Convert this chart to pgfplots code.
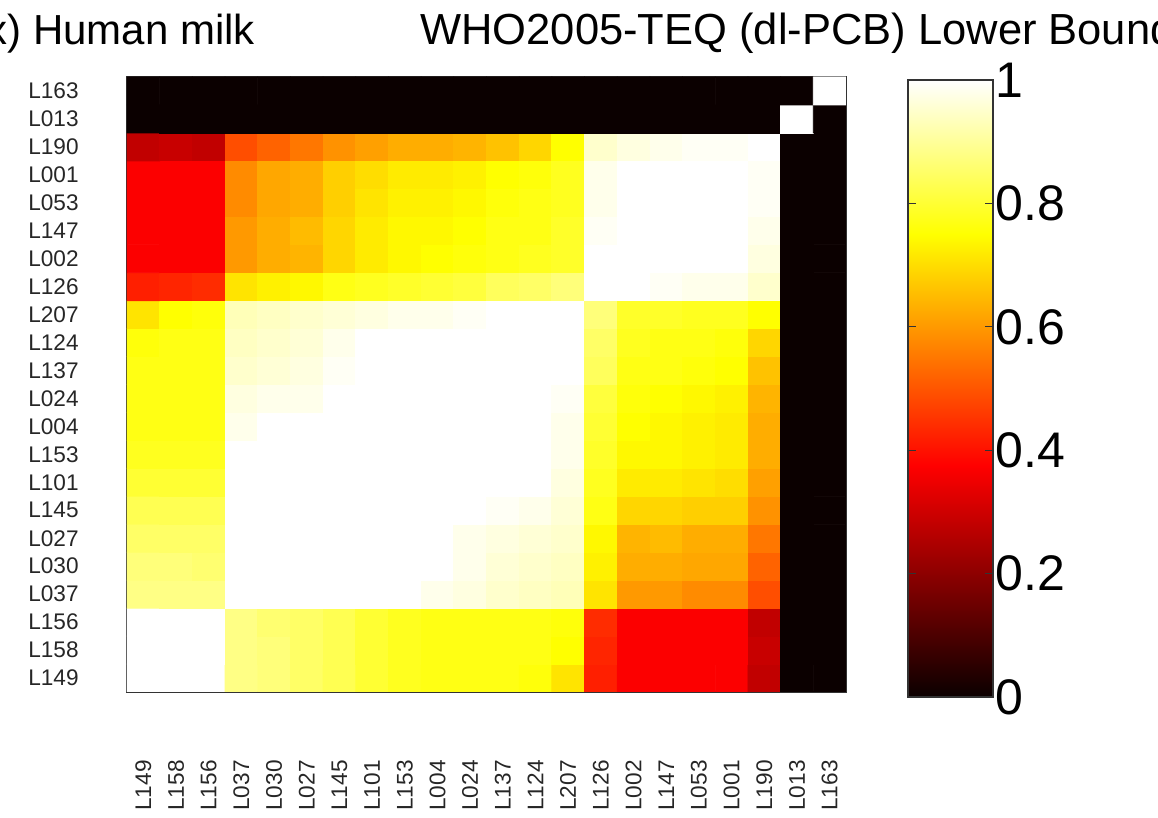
\documentclass[border=0pt]{standalone}
\usepackage{fontspec}
\setmainfont{Liberation Sans}
\usepackage{pgfplots}
\pgfplotsset{compat=1.18}
\begin{document}
\begin{tikzpicture}
\begin{axis}[
  at={(63.5pt,63pt)}, anchor=south west,
  width=359.5pt, height=307.5pt, scale only axis,
  xmin=-0.5, xmax=21.5, ymin=-0.5, ymax=21.5,
  axis line style={draw=black!80, line width=0.75pt},
  xtick={0,...,21}, ytick={0,...,21},
  xticklabels={L149,L158,L156,L037,L030,L027,L145,L101,L153,L004,L024,L137,L124,L207,L126,L002,L147,L053,L001,L190,L013,L163},
  yticklabels={L149,L158,L156,L037,L030,L027,L145,L101,L153,L004,L024,L137,L124,L207,L126,L002,L147,L053,L001,L190,L013,L163},
  major tick length=0pt,
  xticklabel style={rotate=90, anchor=east, inner sep=0pt, font=\fontsize{11.3}{13}\selectfont, text=black!85},
  yticklabel style={anchor=east, inner sep=0pt, font=\fontsize{11.3}{13}\selectfont, text=black!85},
  xticklabel shift=34pt, yticklabel shift=24pt,
  colormap={mhot}{rgb(0)=(0.0417,0,0); rgb(3)=(1,0,0); rgb(6)=(1,1,0); rgb(8)=(1,1,1)},
  point meta min=0, point meta max=1,
  colorbar,
  colorbar shift/.style={},
  colorbar/width=42.5pt,
  colorbar style={
    at={(parent axis.south east)}, anchor=south west, xshift=31pt, yshift=-2.5pt,
    width=42.5pt, height=308.5pt, scale only axis,
    ytick={0,0.2,0.4,0.6,0.8,1},
    tick align=inside, major tick length=4pt, ytick pos=both, yticklabel pos=right,
    /pgf/number format/assume math mode=true,
    yticklabel style={font=\fontsize{25}{28}\selectfont, inner sep=0pt, xshift=1pt},
    axis line style={draw=black!80, line width=0.75pt},
    major tick style={draw=black!80, line width=0.6pt},
  },
]
\addplot[matrix plot*, mesh/cols=22, point meta=explicit] table[row sep=\\, meta=c] {
x y c\\
0 0 1\\ 1 0 1\\ 2 0 1\\ 3 0 0.88\\ 4 0 0.87\\ 5 0 0.85\\ 6 0 0.83\\ 7 0 0.8\\ 8 0 0.78\\ 9 0 0.77\\ 10 0 0.77\\ 11 0 0.77\\ 12 0 0.76\\ 13 0 0.71\\ 14 0 0.42\\ 15 0 0.37\\ 16 0 0.37\\ 17 0 0.37\\ 18 0 0.37\\ 19 0 0.28\\ 20 0 0\\ 21 0 0\\
0 1 1\\ 1 1 1\\ 2 1 1\\ 3 1 0.88\\ 4 1 0.87\\ 5 1 0.85\\ 6 1 0.83\\ 7 1 0.8\\ 8 1 0.78\\ 9 1 0.77\\ 10 1 0.77\\ 11 1 0.77\\ 12 1 0.77\\ 13 1 0.75\\ 14 1 0.43\\ 15 1 0.37\\ 16 1 0.37\\ 17 1 0.37\\ 18 1 0.37\\ 19 1 0.29\\ 20 1 0\\ 21 1 0\\
0 2 1\\ 1 2 1\\ 2 2 1\\ 3 2 0.88\\ 4 2 0.86\\ 5 2 0.85\\ 6 2 0.83\\ 7 2 0.8\\ 8 2 0.78\\ 9 2 0.77\\ 10 2 0.77\\ 11 2 0.77\\ 12 2 0.77\\ 13 2 0.76\\ 14 2 0.44\\ 15 2 0.37\\ 16 2 0.37\\ 17 2 0.37\\ 18 2 0.37\\ 19 2 0.28\\ 20 2 0\\ 21 2 0\\
0 3 0.88\\ 1 3 0.88\\ 2 3 0.88\\ 3 3 1\\ 4 3 1\\ 5 3 1\\ 6 3 1\\ 7 3 1\\ 8 3 1\\ 9 3 0.98\\ 10 3 0.97\\ 11 3 0.95\\ 12 3 0.94\\ 13 3 0.93\\ 14 3 0.71\\ 15 3 0.6\\ 16 3 0.6\\ 17 3 0.58\\ 18 3 0.58\\ 19 3 0.49\\ 20 3 0\\ 21 3 0\\
0 4 0.87\\ 1 4 0.87\\ 2 4 0.86\\ 3 4 1\\ 4 4 1\\ 5 4 1\\ 6 4 1\\ 7 4 1\\ 8 4 1\\ 9 4 1\\ 10 4 0.98\\ 11 4 0.96\\ 12 4 0.95\\ 13 4 0.94\\ 14 4 0.73\\ 15 4 0.63\\ 16 4 0.63\\ 17 4 0.62\\ 18 4 0.62\\ 19 4 0.52\\ 20 4 0\\ 21 4 0\\
0 5 0.85\\ 1 5 0.85\\ 2 5 0.85\\ 3 5 1\\ 4 5 1\\ 5 5 1\\ 6 5 1\\ 7 5 1\\ 8 5 1\\ 9 5 1\\ 10 5 0.98\\ 11 5 0.97\\ 12 5 0.96\\ 13 5 0.95\\ 14 5 0.74\\ 15 5 0.64\\ 16 5 0.65\\ 17 5 0.63\\ 18 5 0.63\\ 19 5 0.55\\ 20 5 0\\ 21 5 0\\
0 6 0.83\\ 1 6 0.83\\ 2 6 0.83\\ 3 6 1\\ 4 6 1\\ 5 6 1\\ 6 6 1\\ 7 6 1\\ 8 6 1\\ 9 6 1\\ 10 6 1\\ 11 6 0.99\\ 12 6 0.98\\ 13 6 0.96\\ 14 6 0.77\\ 15 6 0.69\\ 16 6 0.69\\ 17 6 0.68\\ 18 6 0.68\\ 19 6 0.59\\ 20 6 0\\ 21 6 0\\
0 7 0.8\\ 1 7 0.8\\ 2 7 0.8\\ 3 7 1\\ 4 7 1\\ 5 7 1\\ 6 7 1\\ 7 7 1\\ 8 7 1\\ 9 7 1\\ 10 7 1\\ 11 7 1\\ 12 7 1\\ 13 7 0.97\\ 14 7 0.78\\ 15 7 0.72\\ 16 7 0.72\\ 17 7 0.71\\ 18 7 0.7\\ 19 7 0.61\\ 20 7 0\\ 21 7 0\\
0 8 0.78\\ 1 8 0.78\\ 2 8 0.78\\ 3 8 1\\ 4 8 1\\ 5 8 1\\ 6 8 1\\ 7 8 1\\ 8 8 1\\ 9 8 1\\ 10 8 1\\ 11 8 1\\ 12 8 1\\ 13 8 0.98\\ 14 8 0.79\\ 15 8 0.74\\ 16 8 0.74\\ 17 8 0.73\\ 18 8 0.72\\ 19 8 0.63\\ 20 8 0\\ 21 8 0\\
0 9 0.77\\ 1 9 0.77\\ 2 9 0.77\\ 3 9 0.98\\ 4 9 1\\ 5 9 1\\ 6 9 1\\ 7 9 1\\ 8 9 1\\ 9 9 1\\ 10 9 1\\ 11 9 1\\ 12 9 1\\ 13 9 0.98\\ 14 9 0.8\\ 15 9 0.75\\ 16 9 0.74\\ 17 9 0.73\\ 18 9 0.72\\ 19 9 0.63\\ 20 9 0\\ 21 9 0\\
0 10 0.77\\ 1 10 0.77\\ 2 10 0.77\\ 3 10 0.97\\ 4 10 0.98\\ 5 10 0.98\\ 6 10 1\\ 7 10 1\\ 8 10 1\\ 9 10 1\\ 10 10 1\\ 11 10 1\\ 12 10 1\\ 13 10 0.99\\ 14 10 0.81\\ 15 10 0.76\\ 16 10 0.75\\ 17 10 0.74\\ 18 10 0.73\\ 19 10 0.64\\ 20 10 0\\ 21 10 0\\
0 11 0.77\\ 1 11 0.77\\ 2 11 0.77\\ 3 11 0.95\\ 4 11 0.96\\ 5 11 0.97\\ 6 11 0.99\\ 7 11 1\\ 8 11 1\\ 9 11 1\\ 10 11 1\\ 11 11 1\\ 12 11 1\\ 13 11 1\\ 14 11 0.84\\ 15 11 0.77\\ 16 11 0.77\\ 17 11 0.76\\ 18 11 0.75\\ 19 11 0.66\\ 20 11 0\\ 21 11 0\\
0 12 0.76\\ 1 12 0.77\\ 2 12 0.77\\ 3 12 0.94\\ 4 12 0.95\\ 5 12 0.96\\ 6 12 0.98\\ 7 12 1\\ 8 12 1\\ 9 12 1\\ 10 12 1\\ 11 12 1\\ 12 12 1\\ 13 12 1\\ 14 12 0.85\\ 15 12 0.78\\ 16 12 0.77\\ 17 12 0.77\\ 18 12 0.76\\ 19 12 0.69\\ 20 12 0\\ 21 12 0\\
0 13 0.71\\ 1 13 0.75\\ 2 13 0.76\\ 3 13 0.93\\ 4 13 0.94\\ 5 13 0.95\\ 6 13 0.96\\ 7 13 0.97\\ 8 13 0.98\\ 9 13 0.98\\ 10 13 0.99\\ 11 13 1\\ 12 13 1\\ 13 13 1\\ 14 13 0.87\\ 15 13 0.79\\ 16 13 0.79\\ 17 13 0.78\\ 18 13 0.78\\ 19 13 0.75\\ 20 13 0\\ 21 13 0\\
0 14 0.42\\ 1 14 0.43\\ 2 14 0.44\\ 3 14 0.71\\ 4 14 0.73\\ 5 14 0.74\\ 6 14 0.77\\ 7 14 0.78\\ 8 14 0.79\\ 9 14 0.8\\ 10 14 0.81\\ 11 14 0.84\\ 12 14 0.85\\ 13 14 0.87\\ 14 14 1\\ 15 14 1\\ 16 14 0.99\\ 17 14 0.98\\ 18 14 0.98\\ 19 14 0.95\\ 20 14 0\\ 21 14 0\\
0 15 0.37\\ 1 15 0.37\\ 2 15 0.37\\ 3 15 0.6\\ 4 15 0.63\\ 5 15 0.64\\ 6 15 0.69\\ 7 15 0.72\\ 8 15 0.74\\ 9 15 0.75\\ 10 15 0.76\\ 11 15 0.77\\ 12 15 0.78\\ 13 15 0.79\\ 14 15 1\\ 15 15 1\\ 16 15 1\\ 17 15 1\\ 18 15 1\\ 19 15 0.97\\ 20 15 0\\ 21 15 0\\
0 16 0.37\\ 1 16 0.37\\ 2 16 0.37\\ 3 16 0.6\\ 4 16 0.63\\ 5 16 0.65\\ 6 16 0.69\\ 7 16 0.72\\ 8 16 0.74\\ 9 16 0.74\\ 10 16 0.75\\ 11 16 0.77\\ 12 16 0.77\\ 13 16 0.79\\ 14 16 0.99\\ 15 16 1\\ 16 16 1\\ 17 16 1\\ 18 16 1\\ 19 16 0.98\\ 20 16 0\\ 21 16 0\\
0 17 0.37\\ 1 17 0.37\\ 2 17 0.37\\ 3 17 0.58\\ 4 17 0.62\\ 5 17 0.63\\ 6 17 0.68\\ 7 17 0.71\\ 8 17 0.73\\ 9 17 0.73\\ 10 17 0.74\\ 11 17 0.76\\ 12 17 0.77\\ 13 17 0.78\\ 14 17 0.98\\ 15 17 1\\ 16 17 1\\ 17 17 1\\ 18 17 1\\ 19 17 0.99\\ 20 17 0\\ 21 17 0\\
0 18 0.37\\ 1 18 0.37\\ 2 18 0.37\\ 3 18 0.58\\ 4 18 0.62\\ 5 18 0.63\\ 6 18 0.68\\ 7 18 0.7\\ 8 18 0.72\\ 9 18 0.72\\ 10 18 0.73\\ 11 18 0.75\\ 12 18 0.76\\ 13 18 0.78\\ 14 18 0.98\\ 15 18 1\\ 16 18 1\\ 17 18 1\\ 18 18 1\\ 19 18 0.99\\ 20 18 0\\ 21 18 0\\
0 19 0.28\\ 1 19 0.29\\ 2 19 0.28\\ 3 19 0.49\\ 4 19 0.52\\ 5 19 0.55\\ 6 19 0.59\\ 7 19 0.61\\ 8 19 0.63\\ 9 19 0.63\\ 10 19 0.64\\ 11 19 0.66\\ 12 19 0.69\\ 13 19 0.75\\ 14 19 0.95\\ 15 19 0.97\\ 16 19 0.98\\ 17 19 0.99\\ 18 19 0.99\\ 19 19 1\\ 20 19 0\\ 21 19 0\\
0 20 0\\ 1 20 0\\ 2 20 0\\ 3 20 0\\ 4 20 0\\ 5 20 0\\ 6 20 0\\ 7 20 0\\ 8 20 0\\ 9 20 0\\ 10 20 0\\ 11 20 0\\ 12 20 0\\ 13 20 0\\ 14 20 0\\ 15 20 0\\ 16 20 0\\ 17 20 0\\ 18 20 0\\ 19 20 0\\ 20 20 1\\ 21 20 0\\
0 21 0\\ 1 21 0\\ 2 21 0\\ 3 21 0\\ 4 21 0\\ 5 21 0\\ 6 21 0\\ 7 21 0\\ 8 21 0\\ 9 21 0\\ 10 21 0\\ 11 21 0\\ 12 21 0\\ 13 21 0\\ 14 21 0\\ 15 21 0\\ 16 21 0\\ 17 21 0\\ 18 21 0\\ 19 21 0\\ 20 21 0\\ 21 21 1\\
};
\end{axis}
\node[anchor=base west, inner sep=0pt, font=\fontsize{21}{25}\selectfont] at (-14pt,386.5pt) {(x) Human milk};
\node[anchor=base west, inner sep=0pt, font=\fontsize{21.75}{25}\selectfont] at (210pt,386.5pt) {WHO2005-TEQ (dl-PCB) Lower Bound};
\pgfresetboundingbox
\path[use as bounding box] (0,0) rectangle (579pt,409pt);
\end{tikzpicture}
\end{document}
